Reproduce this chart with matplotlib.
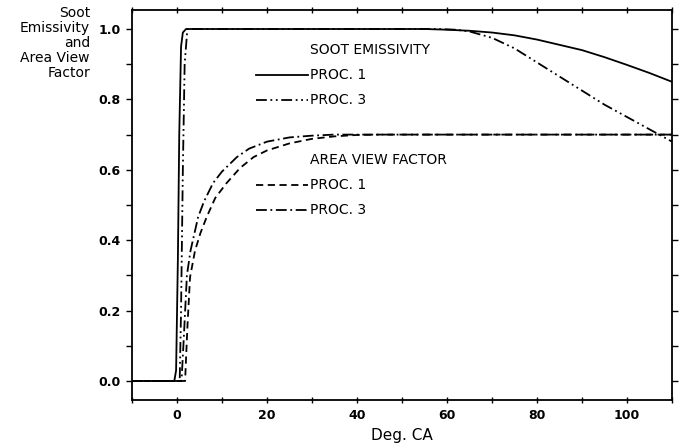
import numpy as np
import matplotlib
matplotlib.use("Agg")
import matplotlib.pyplot as plt
from matplotlib.ticker import MultipleLocator

# soot emissivity, procedure 1
soot1_x = [-10, -0.6, -0.2, 0.2, 0.5, 0.9, 1.3, 2.0, 55, 60, 65, 70, 75, 80, 85, 90, 95, 100, 105, 110]
soot1_y = [0.0, 0.0, 0.03, 0.35, 0.70, 0.95, 0.99, 1.0, 1.0, 0.998, 0.995, 0.99, 0.982, 0.97, 0.955, 0.94, 0.92, 0.898, 0.875, 0.85]

# soot emissivity, procedure 3
soot3_x = [-10, 0.6, 0.9, 1.3, 1.7, 2.3, 58, 62, 65, 70, 75, 80, 85, 90, 95, 100, 105, 110]
soot3_y = [0.0, 0.0, 0.2, 0.6, 0.9, 1.0, 1.0, 0.998, 0.993, 0.975, 0.945, 0.905, 0.865, 0.825, 0.785, 0.75, 0.715, 0.68]

# area view factor, procedure 1
avf1_x = [-10, 1.8, 2.3, 2.9, 4.0, 5.2, 6.6, 8.5, 11, 14, 17, 20, 25, 30, 35, 40, 45, 110]
avf1_y = [0.0, 0.0, 0.15, 0.295, 0.37, 0.42, 0.466, 0.52, 0.562, 0.605, 0.636, 0.655, 0.675, 0.688, 0.695, 0.699, 0.70, 0.70]

# area view factor, procedure 3
avf3_x = [-10, 1.0, 1.5, 2.2, 3.0, 4.7, 6.0, 8.0, 10, 13.3, 16, 20, 25, 30, 35, 110]
avf3_y = [0.0, 0.0, 0.12, 0.30, 0.37, 0.466, 0.51, 0.562, 0.595, 0.636, 0.66, 0.68, 0.692, 0.697, 0.70, 0.70]

x_ticks = [0, 20, 40, 60, 80, 100]
y_ticks = [0.0, 0.2, 0.4, 0.6, 0.8, 1.0]

style_solid = "-"
style_ddot = (0, (6, 2, 1, 2, 1, 2))
style_dash = (0, (4, 2.5))
style_dashdot = (0, (6, 2, 1, 2))

fig = plt.figure(figsize=(6.79, 4.44), dpi=100)
ax = fig.add_axes([132 / 679, 44 / 444, 540 / 679, 390 / 444])

lw = 1.3
ax.plot(soot1_x, soot1_y, color="black", lw=lw, linestyle=style_solid)
ax.plot(soot3_x, soot3_y, color="black", lw=lw, linestyle=style_ddot)
ax.plot(avf1_x, avf1_y, color="black", lw=lw, linestyle=style_dash)
ax.plot(avf3_x, avf3_y, color="black", lw=lw, linestyle=style_dashdot)

ax.set_xlim(-10, 110)
ax.set_ylim(-0.054, 1.054)
ax.set_xticks(x_ticks)
ax.set_xticklabels([str(v) for v in x_ticks])
ax.set_yticks(y_ticks)
ax.set_yticklabels([f"{v:.1f}" for v in y_ticks])
ax.xaxis.set_minor_locator(MultipleLocator(10))
ax.yaxis.set_minor_locator(MultipleLocator(0.1))

ax.tick_params(axis="x", which="both", direction="inout", length=5, width=1, labelsize=9, pad=4)
ax.tick_params(axis="y", which="both", direction="out", length=4, width=1, labelsize=9, pad=4)
ax.tick_params(top=True, right=True, which="both")
for lab in ax.get_xticklabels() + ax.get_yticklabels():
    lab.set_fontweight("bold")
for sp in ax.spines.values():
    sp.set_linewidth(1.3)

ax.set_xlabel("Deg. CA", fontsize=11, labelpad=4)

fig.text(90 / 679, 1 - 6 / 444, "Soot\nEmissivity\nand\nArea View\nFactor",
         ha="right", va="top", fontsize=10, linespacing=1.1)

# in-plot key
def key(y_px, text, style=None):
    yd = 1 - y_px / 444
    if style is not None:
        fig.add_artist(plt.Line2D([256 / 679, 308 / 679], [yd, yd], color="black",
                                  lw=lw, linestyle=style, transform=fig.transFigure))
    fig.text(310 / 679, yd, text, ha="left", va="center", fontsize=10)

key(50, "SOOT EMISSIVITY")
key(75, "PROC. 1", style_solid)
key(100, "PROC. 3", style_ddot)
key(160, "AREA VIEW FACTOR")
key(185, "PROC. 1", style_dash)
key(210, "PROC. 3", style_dashdot)

fig.savefig("out.png", dpi=100)
